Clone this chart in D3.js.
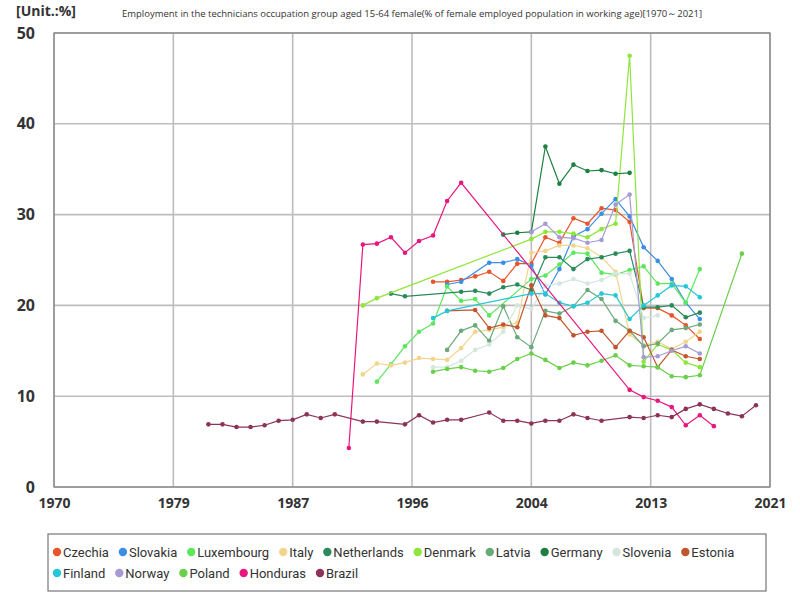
<!DOCTYPE html>
<html>
<head>
<meta charset="utf-8">
<script src="https://cdn.jsdelivr.net/npm/d3@7"></script>
<style>
  body { margin: 0; background: #fff; }
  svg { display: block; font-family: "Open Sans", "Noto Sans", sans-serif; }
</style>
</head>
<body>
<svg id="chart" width="800" height="600"></svg>
<script>
// --- data: [year, value] ---
const countries = ["Czechia","Slovakia","Luxembourg","Italy","Netherlands","Denmark","Latvia","Germany","Slovenia","Estonia","Finland","Norway","Poland","Honduras","Brazil"];
const colors = ["#e8542c","#3a8ee6","#5fe65f","#f3d48c","#2a8a5c","#8ee63a","#6aaa7a","#1e8040","#d4e6de","#c0552e","#26c6d6","#a69ad6","#6ad04c","#e8167e","#8c3358"];

const czechia = [[1997,22.6],[1998,22.6],[1999,22.8],[2000,23.2],[2001,23.7],[2002,22.7],[2003,24.6],[2004,24.6],[2005,27.5],[2006,26.9],[2007,29.6],[2008,29.0],[2009,30.7],[2010,30.5],[2011,29.2],[2012,19.7],[2013,19.7],[2014,18.9],[2015,17.8],[2016,16.3]];
const slovakia = [[1998,22.3],[1999,22.6],[2001,24.7],[2002,24.7],[2003,25.1],[2004,24.4],[2005,21.2],[2006,24.0],[2007,27.6],[2008,28.4],[2009,30.1],[2010,31.7],[2011,29.8],[2012,26.4],[2013,24.9],[2014,22.9],[2015,20.3],[2016,18.5]];
const luxembourg = [[1993,11.6],[1994,13.5],[1995,15.5],[1996,17.1],[1997,18.0],[1998,22.1],[1999,20.5],[2000,20.7],[2001,18.9],[2004,22.9],[2005,23.3],[2006,24.5],[2007,25.8],[2008,25.7],[2009,23.6],[2010,23.4],[2011,23.9],[2012,24.3],[2013,22.4],[2014,22.4],[2015,20.3],[2016,24.0]];
const italy = [[1992,12.4],[1993,13.6],[1994,13.4],[1995,13.7],[1996,14.2],[1997,14.1],[1998,14.0],[1999,15.3],[2000,17.1],[2001,17.3],[2002,17.6],[2003,18.1],[2004,25.8],[2005,26.0],[2006,26.6],[2007,26.6],[2008,26.3],[2009,25.3],[2010,23.7],[2011,16.8],[2012,15.6],[2013,16.0],[2014,15.2],[2015,16.0],[2016,17.1]];
const netherlands = [[1994,21.3],[1995,21.0],[1999,21.5],[2000,21.6],[2001,21.3],[2002,22.0],[2003,22.3],[2004,21.7],[2005,25.3],[2006,25.3],[2007,24.0],[2008,25.1],[2009,25.3],[2010,25.7],[2011,26.0],[2012,19.8],[2013,19.8],[2014,20.0],[2015,18.7],[2016,19.2]];
const denmark = [[1992,20.0],[1993,20.8],[2004,27.3],[2005,28.1],[2006,28.1],[2007,27.9],[2008,27.5],[2009,28.4],[2010,29.0],[2011,47.5],[2012,13.8],[2013,15.7],[2014,15.1],[2015,13.7],[2016,13.2]];
const latvia = [[1998,15.1],[1999,17.2],[2000,17.8],[2001,16.1],[2002,19.9],[2003,16.5],[2004,15.4],[2005,19.4],[2006,19.1],[2007,19.9],[2008,21.7],[2009,20.7],[2010,18.3],[2011,17.2],[2012,15.5],[2013,15.8],[2014,17.3],[2015,17.5],[2016,17.9]];
const germany = [[2002,27.8],[2003,28.0],[2004,28.1],[2005,37.5],[2006,33.4],[2007,35.5],[2008,34.8],[2009,34.9],[2010,34.5],[2011,34.6]];
const slovenia = [[1997,13.2],[1998,13.2],[1999,13.9],[2000,15.1],[2001,15.7],[2002,17.1],[2003,20.0],[2004,19.6],[2005,22.2],[2006,22.4],[2007,22.9],[2008,22.4],[2009,22.8],[2010,23.5],[2011,23.5],[2012,18.6],[2013,18.9]];
const estonia = [[1998,19.4],[2000,19.5],[2001,17.5],[2002,17.9],[2003,17.6],[2004,22.2],[2005,18.9],[2006,18.6],[2007,16.7],[2008,17.1],[2009,17.2],[2010,15.4],[2011,17.2],[2012,16.5],[2013,13.2],[2014,15.1],[2015,14.4],[2016,14.1]];
const finland = [[1997,18.6],[1998,19.4],[2004,21.3],[2005,21.3],[2006,20.3],[2007,19.9],[2008,20.3],[2009,21.3],[2010,21.1],[2011,18.5],[2012,20.0],[2013,21.1],[2014,22.2],[2015,22.1],[2016,20.9]];
const norway = [[2004,28.1],[2005,29.0],[2006,27.5],[2007,27.4],[2008,26.9],[2009,27.2],[2010,31.1],[2011,32.2],[2012,14.3],[2013,14.4],[2014,15.0],[2015,15.5],[2016,14.7]];
const poland = [[1997,12.7],[1998,13.0],[1999,13.2],[2000,12.8],[2001,12.7],[2002,13.1],[2003,14.1],[2004,14.7],[2005,14.0],[2006,13.1],[2007,13.7],[2008,13.4],[2009,13.9],[2010,14.5],[2011,13.4],[2012,13.3],[2013,13.2],[2014,12.2],[2015,12.1],[2016,12.3],[2019,25.7]];
const honduras = [[1991,4.3],[1992,26.7],[1993,26.8],[1994,27.5],[1995,25.8],[1996,27.1],[1997,27.7],[1998,31.5],[1999,33.5],[2011,10.7],[2012,9.9],[2013,9.5],[2014,8.8],[2015,6.8],[2016,7.9],[2017,6.7]];
const brazil = [[1981,6.9],[1982,6.9],[1983,6.6],[1984,6.6],[1985,6.8],[1986,7.3],[1987,7.4],[1988,8.0],[1989,7.6],[1990,8.0],[1992,7.2],[1993,7.2],[1995,6.9],[1996,7.9],[1997,7.1],[1998,7.4],[1999,7.4],[2001,8.2],[2002,7.3],[2003,7.3],[2004,7.0],[2005,7.3],[2006,7.3],[2007,8.0],[2008,7.6],[2009,7.3],[2011,7.7],[2012,7.6],[2013,7.9],[2014,7.7],[2015,8.6],[2016,9.1],[2017,8.6],[2018,8.1],[2019,7.8],[2020,9.0]];

const seriesData = [czechia,slovakia,luxembourg,italy,netherlands,denmark,latvia,germany,slovenia,estonia,finland,norway,poland,honduras,brazil];

const xTicks = [1970, 1978.5, 1987, 1995.5, 2004, 2012.5, 2021];
const yTicks = [0, 10, 20, 30, 40, 50];
const title = "Employment in the technicians occupation group aged 15-64 female(% of female employed population in working age)[1970\uFF5E2021]";

// --- layout ---
const svg = d3.select("#chart");
const plot = { left: 54, right: 770, top: 33, bottom: 487 };

const x = d3.scaleLinear().domain([1970, 2021]).range([plot.left, plot.right]);
const y = d3.scaleLinear().domain([0, 50]).range([plot.bottom, plot.top]);

// unit label, top left
svg.append("text")
  .attr("x", 16).attr("y", 16)
  .attr("font-size", 14).attr("font-weight", "bold").attr("fill", "#333")
  .text("[Unit.:%]");

svg.append("text")
  .attr("x", 412).attr("y", 17)
  .attr("text-anchor", "middle")
  .attr("font-size", 9.5).attr("fill", "#333")
  .attr("textLength", 580).attr("lengthAdjust", "spacingAndGlyphs")
  .text(title);

// grid
const grid = svg.append("g");
grid.selectAll("line.v")
  .data(xTicks)
  .join("line")
  .attr("class", "v")
  .attr("x1", d => x(d)).attr("x2", d => x(d))
  .attr("y1", plot.top).attr("y2", plot.bottom)
  .attr("stroke", "#bdbdbd").attr("stroke-width", 1.6);
grid.selectAll("line.h")
  .data(yTicks)
  .join("line")
  .attr("class", "h")
  .attr("x1", plot.left).attr("x2", plot.right)
  .attr("y1", d => y(d)).attr("y2", d => y(d))
  .attr("stroke", "#bdbdbd").attr("stroke-width", 1.6);

svg.append("rect")
  .attr("x", plot.left).attr("y", plot.top)
  .attr("width", plot.right - plot.left).attr("height", plot.bottom - plot.top)
  .attr("fill", "none").attr("stroke", "#8a8a8a").attr("stroke-width", 1.4);

// axes (labels only, the grid does the lines)
const xAxis = svg.append("g")
  .attr("transform", `translate(0,${plot.bottom + 8})`)
  .call(d3.axisBottom(x).tickValues(xTicks).tickFormat(d3.format("d")).tickSize(0));
xAxis.select(".domain").remove();
xAxis.selectAll("text")
  .attr("font-size", 14).attr("font-weight", "bold").attr("fill", "#333")
  .attr("font-family", "'Open Sans', sans-serif");

const yAxis = svg.append("g")
  .attr("transform", `translate(${plot.left - 16},0)`)
  .call(d3.axisLeft(y).tickValues(yTicks).tickSize(0));
yAxis.select(".domain").remove();
yAxis.selectAll("text")
  .attr("font-size", 16).attr("font-weight", "bold").attr("fill", "#333")
  .attr("font-family", "'Open Sans', sans-serif");

// lines + points
const line = d3.line().x(d => x(d[0])).y(d => y(d[1]));
const marks = svg.append("g");
seriesData.forEach((data, i) => {
  const g = marks.append("g");
  g.append("path")
    .datum(data)
    .attr("d", line)
    .attr("fill", "none")
    .attr("stroke", colors[i])
    .attr("stroke-width", 1.2);
  g.selectAll("circle")
    .data(data)
    .join("circle")
    .attr("cx", d => x(d[0]))
    .attr("cy", d => y(d[1]))
    .attr("r", 2.3)
    .attr("fill", colors[i]);
});

// legend
const legend = svg.append("g");
legend.append("rect")
  .attr("x", 48).attr("y", 534)
  .attr("width", 718).attr("height", 57)
  .attr("fill", "#fff").attr("stroke", "#777").attr("stroke-width", 1.2);

const rows = [countries.slice(0, 10), countries.slice(10)];
rows.forEach((row, r) => {
  let cx = 57;
  const cy = 552 + r * 21;
  row.forEach(name => {
    const i = countries.indexOf(name);
    legend.append("circle")
      .attr("cx", cx).attr("cy", cy).attr("r", 4.2)
      .attr("fill", colors[i]);
    const t = legend.append("text")
      .attr("x", cx + 6).attr("y", cy)
      .attr("dy", "0.35em")
      .attr("font-size", 13).attr("fill", "#333")
      .attr("font-family", "'Roboto', sans-serif")
      .text(name);
    cx += 6 + t.node().getComputedTextLength() + 14;
  });
});
</script>
</body>
</html>
